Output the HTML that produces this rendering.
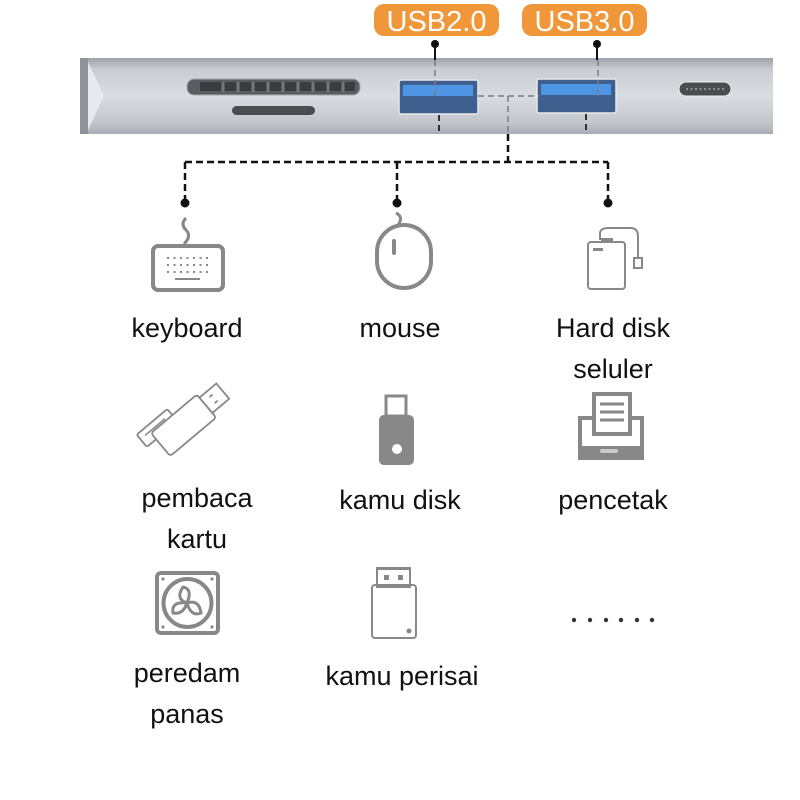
<!DOCTYPE html>
<html><head><meta charset="utf-8"><style>
html,body{margin:0;padding:0;background:#fff;width:800px;height:800px;overflow:hidden}
svg{display:block}
text{font-family:"Liberation Sans","Noto Sans CJK SC",sans-serif;fill:#111}
</style></head><body>
<svg width="800" height="800" viewBox="0 0 800 800" xmlns="http://www.w3.org/2000/svg">
<defs>
<linearGradient id="bar" x1="0" y1="0" x2="0" y2="1">
<stop offset="0" stop-color="#9ea3aa"/><stop offset="0.15" stop-color="#c9cdd3"/>
<stop offset="0.5" stop-color="#d9dce0"/><stop offset="0.85" stop-color="#c3c7cc"/><stop offset="1" stop-color="#a9adb3"/>
</linearGradient>
</defs>
<rect x="374" y="4" width="125" height="32" rx="10" fill="#f0973a"/>
<text x="436.5" y="31" font-size="29" text-anchor="middle" style="fill:#fff">USB2.0</text>
<rect x="522" y="4" width="125" height="32" rx="10" fill="#f0973a"/>
<text x="584.5" y="31" font-size="29" text-anchor="middle" style="fill:#fff">USB3.0</text>
<rect x="80" y="58" width="693" height="76" fill="url(#bar)"/>
<rect x="80" y="58" width="8" height="76" fill="#8e939a"/>
<polygon points="88,62 104,96 88,130" fill="#e6e9ee"/>
<rect x="187" y="79" width="173" height="16" rx="7" fill="#595c61" stroke="#aaa" stroke-width="1"/>
<rect x="200" y="82" width="155" height="9" fill="#3a3c40"/>
<g stroke="#777" stroke-width="3">
<line x1="223" y1="82" x2="223" y2="92"/><line x1="238" y1="82" x2="238" y2="92"/><line x1="253" y1="82" x2="253" y2="92"/><line x1="268" y1="82" x2="268" y2="92"/><line x1="283" y1="82" x2="283" y2="92"/><line x1="298" y1="82" x2="298" y2="92"/><line x1="313" y1="82" x2="313" y2="92"/><line x1="328" y1="82" x2="328" y2="92"/><line x1="343" y1="82" x2="343" y2="92"/>
</g>
<rect x="232" y="106" width="83" height="9" rx="4.5" fill="#4a4c50"/>
<rect x="399" y="80" width="79" height="34" rx="2" fill="#3f5f8e" stroke="#e6e8ec" stroke-width="1.5"/>
<rect x="403" y="85" width="70" height="11" fill="#4e95e3"/>
<rect x="537" y="79" width="79" height="34" rx="2" fill="#3f5f8e" stroke="#e6e8ec" stroke-width="1.5"/>
<rect x="541" y="84" width="70" height="11" fill="#4e95e3"/>
<rect x="679" y="82" width="52" height="14" rx="7" fill="#4a4c50" stroke="#eee" stroke-width="1"/>
<line x1="686" y1="89" x2="724" y2="89" stroke="#aaa" stroke-width="1.5" stroke-dasharray="2 2.5"/>
<circle cx="435" cy="44" r="4" fill="#111"/><line x1="435" y1="44" x2="435" y2="60" stroke="#111" stroke-width="2"/>
<circle cx="597" cy="44" r="4" fill="#111"/><line x1="597" y1="44" x2="597" y2="60" stroke="#111" stroke-width="2"/>
<g stroke="#7a7e84" stroke-width="1.5" stroke-dasharray="6 4" fill="none">
<line x1="435" y1="60" x2="435" y2="96"/><line x1="598" y1="60" x2="598" y2="96"/>
<line x1="478" y1="96" x2="540" y2="96"/><line x1="508" y1="96" x2="508" y2="134"/>
</g>
<g stroke="#333" stroke-width="2" stroke-dasharray="6 4" fill="none">
<line x1="439" y1="115" x2="439" y2="134"/><line x1="586" y1="114" x2="586" y2="134"/>
</g>
<g stroke="#111" stroke-width="2.5" stroke-dasharray="7 4" fill="none">
<line x1="508" y1="134" x2="508" y2="162"/>
<line x1="185" y1="162" x2="608" y2="162"/>
<line x1="185" y1="162" x2="185" y2="203"/><line x1="397" y1="162" x2="397" y2="203"/><line x1="608" y1="162" x2="608" y2="203"/>
</g>
<circle cx="185" cy="203" r="4.5" fill="#111"/><circle cx="397" cy="203" r="4.5" fill="#111"/><circle cx="608" cy="203" r="4.5" fill="#111"/>
<g stroke="#888" fill="none">
<path d="M186 218 q-6 6 0 12 q6 6 -2 14" stroke-width="3"/>
<rect x="153" y="246" width="70" height="44" rx="5" stroke-width="4"/>
<g stroke-width="2" stroke-dasharray="2 4.5"><line x1="167" y1="258" x2="210" y2="258"/><line x1="167" y1="265" x2="210" y2="265"/><line x1="167" y1="272" x2="210" y2="272"/></g>
<line x1="175" y1="279" x2="200" y2="279" stroke-width="2"/>
</g>
<g stroke="#888" fill="none" stroke-width="4">
<path d="M396 213 q8 4 2 12" stroke-width="3"/>
<rect x="377" y="225" width="54" height="63" rx="27"/>
<line x1="394" y1="241" x2="394" y2="253" stroke-linecap="round"/>
</g>
<g stroke="#888" fill="none" stroke-width="2">
<rect x="588" y="242" width="37" height="47" rx="3"/>
<path d="M600 240 v-6 q0-6 8-6 h22 q8 0 8 8 v22"/>
<rect x="634" y="258" width="8" height="10"/>
</g>
<rect x="593" y="248" width="10" height="3" fill="#888"/><rect x="601" y="238" width="12" height="4" fill="#888"/>
<text x="187" y="337" font-size="27" text-anchor="middle">keyboard</text>
<text x="400" y="337" font-size="27" text-anchor="middle">mouse</text>
<text x="613" y="337" font-size="27" text-anchor="middle">Hard disk</text>
<text x="613" y="378" font-size="27" text-anchor="middle">seluler</text>
<g stroke="#888" fill="#fff" stroke-width="1.8" transform="translate(186,422) rotate(-40)">
<rect x="-46" y="-22" width="40" height="16" rx="2"/>
<line x1="-40" y1="-16" x2="-14" y2="-16" stroke-width="1.5"/>
<rect x="-34" y="-14" width="60" height="30" rx="3"/>
<rect x="26" y="-10" width="22" height="20"/>
<line x1="34" y1="-4" x2="38" y2="-4"/><line x1="34" y1="4" x2="38" y2="4"/>
</g>
<rect x="386" y="396" width="20" height="20" fill="none" stroke="#888" stroke-width="3"/>
<rect x="379" y="415" width="35" height="50" rx="5" fill="#888"/>
<circle cx="397" cy="449" r="5" fill="#fff"/>
<g fill="none" stroke="#888" stroke-width="4">
<rect x="594" y="394" width="36" height="40"/>
<path d="M594 418 h-14 v40 h62 v-40 h-12"/>
</g>
<g stroke="#888" stroke-width="3"><line x1="600" y1="404" x2="624" y2="404"/><line x1="600" y1="412" x2="624" y2="412"/><line x1="600" y1="420" x2="624" y2="420"/></g>
<rect x="579" y="446" width="64" height="14" rx="2" fill="#888"/>
<rect x="600" y="449" width="18" height="4" rx="2" fill="#ccc"/>
<text x="197" y="507" font-size="27" text-anchor="middle">pembaca</text>
<text x="197" y="548" font-size="27" text-anchor="middle">kartu</text>
<text x="400" y="509" font-size="27" text-anchor="middle">kamu disk</text>
<text x="613" y="509" font-size="27" text-anchor="middle">pencetak</text>
<rect x="157" y="573" width="61" height="60" rx="4" fill="none" stroke="#888" stroke-width="4"/>
<circle cx="187.5" cy="603" r="24" fill="none" stroke="#888" stroke-width="4"/>
<g fill="none" stroke="#888" stroke-width="3"><path d="M187 603 q-12 -4 -4 -16 q10 2 4 16 q12 -4 14 10 q-10 4 -14 -10 q-4 12 -14 10 q-2 -12 14 -10"/></g>
<g fill="#888"><circle cx="163" cy="579" r="1.6"/><circle cx="212" cy="579" r="1.6"/><circle cx="163" cy="627" r="1.6"/><circle cx="212" cy="627" r="1.6"/></g>
<g fill="none" stroke="#888" stroke-width="2">
<rect x="377" y="568" width="33" height="19"/>
<rect x="372" y="585" width="44" height="53" rx="3"/>
</g>
<rect x="377" y="567" width="33" height="3" fill="#888"/>
<rect x="384" y="575" width="5" height="5" fill="#888"/><rect x="398" y="575" width="5" height="5" fill="#888"/>
<circle cx="409" cy="631" r="2.5" fill="#888"/>
<g fill="#333"><circle cx="574" cy="620" r="2.2"/><circle cx="590" cy="620" r="2.2"/><circle cx="606" cy="620" r="2.2"/><circle cx="621" cy="620" r="2.2"/><circle cx="637" cy="620" r="2.2"/><circle cx="652" cy="620" r="2.2"/></g>
<text x="187" y="682" font-size="27" text-anchor="middle">peredam</text>
<text x="187" y="723" font-size="27" text-anchor="middle">panas</text>
<text x="402" y="685" font-size="27" text-anchor="middle">kamu perisai</text>
</svg>
</body></html>
